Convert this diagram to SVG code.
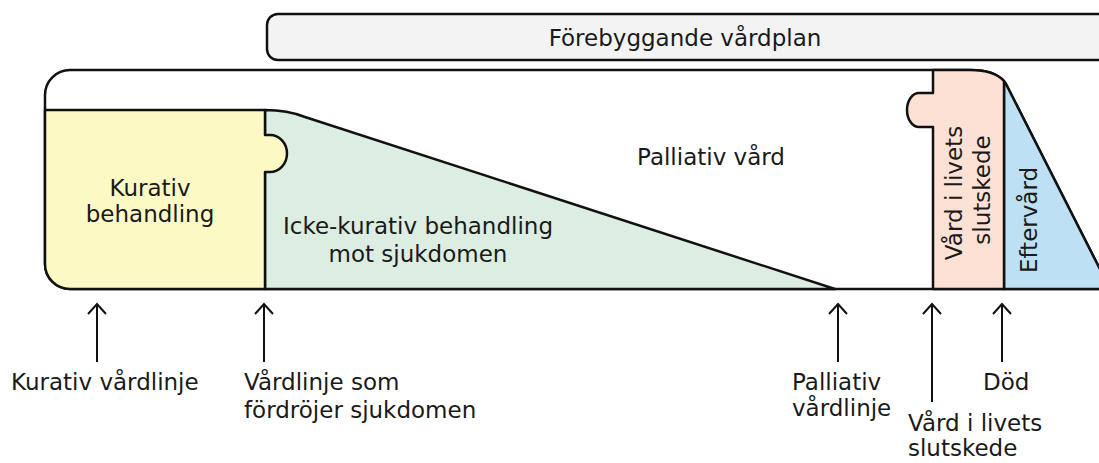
<svg xmlns="http://www.w3.org/2000/svg" width="1099" height="463" viewBox="0 0 1099 463">
<defs>
<style>
text{font-family:"DejaVu Sans",Verdana,sans-serif;font-size:23px;fill:#1a1a1a}
.sh{stroke:#111;stroke-width:2.5;stroke-linejoin:round}
.ar{stroke:#111;stroke-width:2;fill:none}
</style>
<marker id="ah" viewBox="0 0 20 20" refX="18" refY="10" markerWidth="20" markerHeight="20" markerUnits="userSpaceOnUse" orient="auto">
<path d="M8,1 L18,10 L8,19" fill="none" stroke="#111" stroke-width="2"/>
</marker>
</defs>
<rect width="1099" height="463" fill="#fff"/>
<g id="forebyggande">
<rect x="267" y="14" width="900" height="46" rx="11" fill="#f3f3f3" class="sh"/>
<text x="685" y="46" text-anchor="middle">Förebyggande vårdplan</text>
</g>
<g id="palliativ">
<path d="M45,95 A25,25 0 0 1 70,70 L970,70 C988,70 998,74 1006,84 L1110,289 L70,289 A25,25 0 0 1 45,264 Z" fill="#fff" class="sh"/>
<text x="711" y="165" text-anchor="middle">Palliativ vård</text>
</g>
<g id="icke-kurativ">
<path d="M265,110 C280,110 295,113 305,117 L835,289 L265,289 Z" fill="#dcede1" class="sh"/>
<text x="418" y="234" text-anchor="middle">Icke-kurativ behandling</text>
<text x="418" y="262" text-anchor="middle">mot sjukdomen</text>
</g>
<g id="kurativ">
<path d="M45,110 L265,110 L265,135 L270,135 A17,18.5 0 0 1 270,172 L265,172 L265,289 L70,289 A25,25 0 0 1 45,264 Z" fill="#fcf9c5" class="sh"/>
<text x="150" y="196" text-anchor="middle">Kurativ</text>
<text x="150" y="222" text-anchor="middle">behandling</text>
</g>
<g id="eftervard">
<path d="M1004,81 L1006,84 L1110,289 L1004,289 Z" fill="#bde0f4" class="sh"/>
<text transform="translate(1037,220) rotate(-90)" text-anchor="middle">Eftervård</text>
</g>
<g id="slutskede">
<path d="M933,70 L970,70 C988,70 998,74 1004,81 L1004,289 L933,289 L933,127 L919,127 A12,17 0 0 1 919,93 L933,93 Z" fill="#fde1d5" class="sh"/>
<text transform="translate(962,193) rotate(-90)" text-anchor="middle">Vård i livets</text>
<text transform="translate(990,190) rotate(-90)" text-anchor="middle">slutskede</text>
</g>
<g id="connectors">
<line x1="97" y1="362" x2="97" y2="304" class="ar" marker-end="url(#ah)"/>
<line x1="264" y1="362" x2="264" y2="304" class="ar" marker-end="url(#ah)"/>
<line x1="838" y1="362" x2="838" y2="304" class="ar" marker-end="url(#ah)"/>
<line x1="932" y1="402" x2="932" y2="304" class="ar" marker-end="url(#ah)"/>
<line x1="1002" y1="362" x2="1002" y2="304" class="ar" marker-end="url(#ah)"/>
</g>
<g id="labels">
<text x="11" y="390">Kurativ vårdlinje</text>
<text x="244" y="390">Vårdlinje som</text>
<text x="244" y="418">fördröjer sjukdomen</text>
<text x="792" y="390">Palliativ</text>
<text x="792" y="416">vårdlinje</text>
<text x="983" y="390">Död</text>
<text x="908" y="431">Vård i livets</text>
<text x="908" y="456">slutskede</text>
</g>
</svg>
